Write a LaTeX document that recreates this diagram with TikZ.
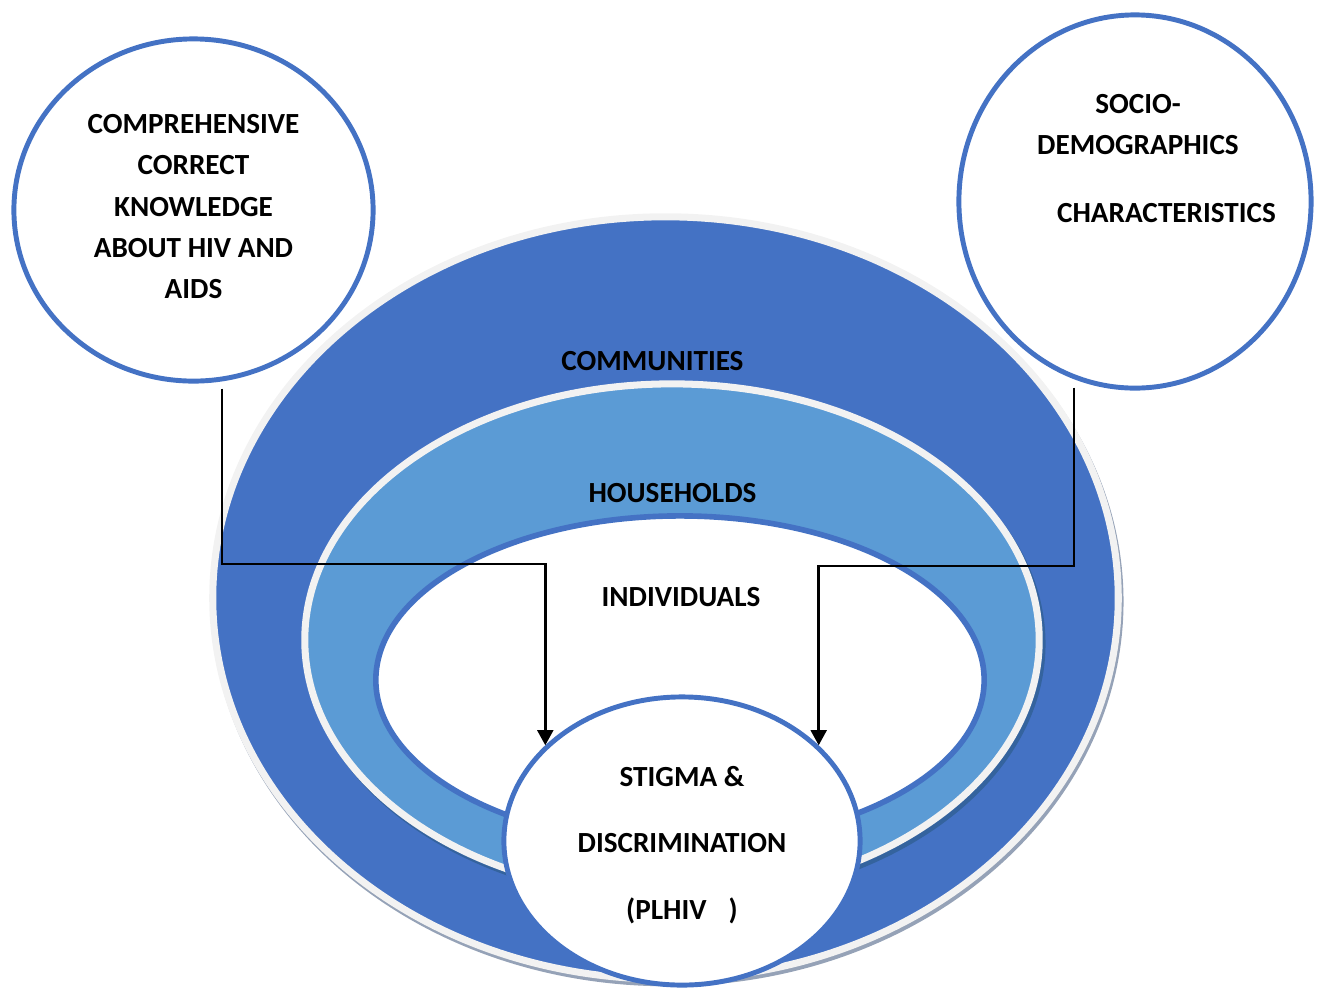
\documentclass[tikz,border=0pt]{standalone}
\usepackage{fontspec}
\setmainfont{Carlito}
\usepackage{tikz}
\usetikzlibrary{arrows.meta,shapes.geometric,shadows,calc}

\definecolor{commblue}{HTML}{4472C4}
\definecolor{houseblue}{HTML}{5B9BD5}
\definecolor{rimgray}{HTML}{F2F2F2}
\definecolor{commshade}{HTML}{95A2B7}
\definecolor{houseshade}{HTML}{34639E}

\begin{document}
\begin{tikzpicture}[
  x=0.01cm, y=-0.01cm,
  ring/.style={ellipse, draw=rimgray, line width=2pt, inner sep=0pt},
  hole/.style={ellipse, draw=commblue, fill=white, line width=1.6pt, inner sep=0pt},
  bubble/.style={ellipse, draw=commblue, fill=white, line width=1.4pt, inner sep=0pt, align=center, font=\fontsize{8.3}{11.7}\selectfont\bfseries},
  lbl/.style={inner sep=0pt, align=center, font=\fontsize{8.3}{11.7}\selectfont\bfseries},
  arr/.style={-{Triangle[width=4.5pt,length=4.3pt]}, line width=0.7pt}
]
\useasboundingbox (0,0) rectangle (1317,990);

% the three nested levels
\node[ring, fill=commblue, minimum width=9.05cm, minimum height=7.62cm,
  drop shadow={shadow xshift=0.5pt, shadow yshift=-1pt, fill=commshade, draw=commshade, line width=2pt, opacity=1}] (comm) at (665.5,598) {};
\node[ring, fill=houseblue, minimum width=7.34cm, minimum height=5.12cm,
  drop shadow={shadow xshift=0.8pt, shadow yshift=-1.1pt, fill=houseshade, draw=houseshade, line width=2pt, opacity=1}] (house) at (672,640) {};
\node[hole, minimum width=6.08cm, minimum height=3.28cm] (indiv) at (680,680) {};

\node[lbl] (commtxt) at (652.5,361) {COMMUNITIES};
\node[lbl] (housetxt) at (672.5,493) {HOUSEHOLDS};
\node[lbl] (indivtxt) at (681,597) {INDIVIDUALS};

% outcome and the two factors
\node[bubble, minimum width=3.56cm, minimum height=2.88cm, font=\fontsize{8.3}{19}\selectfont\bfseries] (stigma) at (682,841) {\rule{0pt}{8pt}STIGMA \&\\DISCRIMINATION\\(PLHIV\hspace{2.2mm})};
\node[bubble, minimum width=3.59cm, minimum height=3.42cm] (know) at (193.5,210) {COMPREHENSIVE\\CORRECT\\KNOWLEDGE\\ABOUT HIV AND\\AIDS\rule[-2pt]{0pt}{2pt}};
\node[bubble, minimum width=3.52cm, minimum height=3.73cm] (socdem) at (1135,201.5) {};
\node[lbl] (sociotxt) at (1138,124.5) {SOCIO-\\DEMOGRAPHICS};
\node[lbl] (chartxt) at (1166.5,213) {CHARACTERISTICS};

\coordinate (kbend) at (222,564);
\coordinate (sbend) at (1074,566);
\draw[arr] ($(know.south -| kbend)+(0,5)$) -- (kbend) -| (stigma.145);
\draw[arr] ($(socdem.south -| sbend)+(0,-3)$) -- (sbend) -| (stigma.35);
\end{tikzpicture}
\end{document}
